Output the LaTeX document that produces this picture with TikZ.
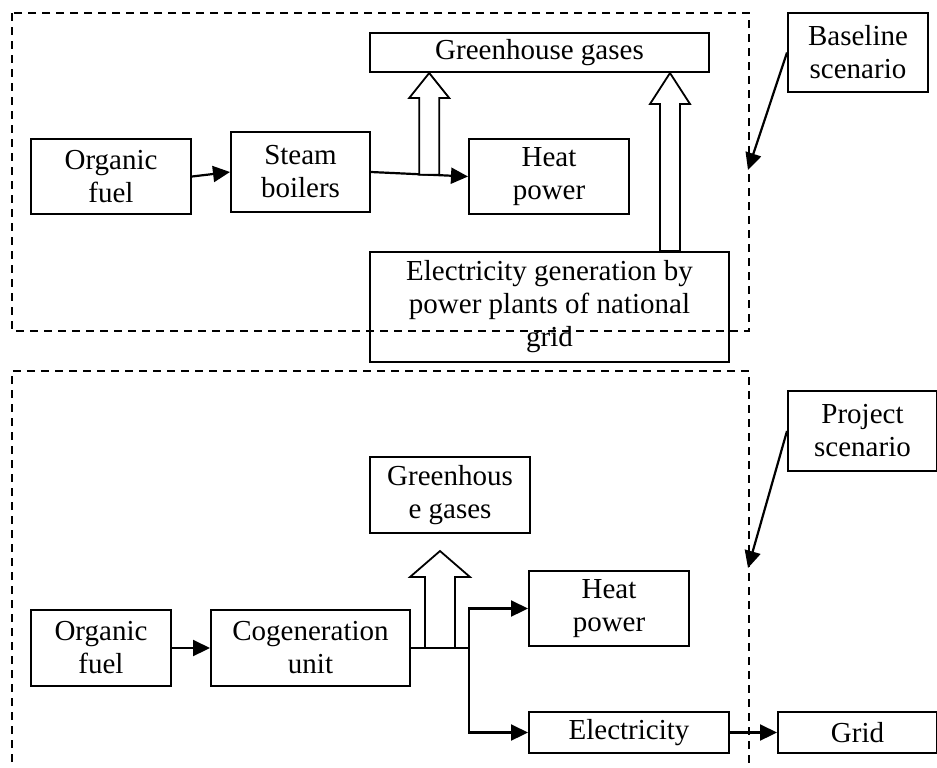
\documentclass[tikz,border=0pt]{standalone}
\usepackage{fontspec}
\setmainfont{Liberation Serif}
\usetikzlibrary{arrows.meta,calc,positioning}

\tikzset{
  blk/.style={draw, line width=1pt, align=center, inner sep=1pt,
    font=\fontsize{14.5}{16.5}\selectfont},
  arr/.style={line width=1.1pt, -{Triangle[length=8.5pt,width=8pt]}},
  frame/.style={line width=0.8pt, dash pattern=on 4pt off 3pt},
  fat/.style={draw, fill=white, line width=0.9pt},
}
% hollow arrow: base, tip, half shaft, half head, head length
\newcommand{\fatarrow}[5]{%
  \draw[fat] ($(#1)+(-#3,0)$) -- ($(#2)+(-#3,#5)$) -- ($(#2)+(-#4,#5)$) -- (#2)
    -- ($(#2)+(#4,#5)$) -- ($(#2)+(#3,#5)$) -- ($(#1)+(#3,0)$) -- cycle;
}

\begin{document}
\begin{tikzpicture}[x=0.5pt, y=-0.5pt]
  \useasboundingbox (0,0) rectangle (937,767);

  % baseline scenario
  \draw[frame] (12,13) rectangle (749,331);
  \node[blk, minimum width=80pt, minimum height=37.5pt] (fuelA) at (111,176.5) {Organic\\fuel};
  \node[blk, minimum width=69.5pt, minimum height=40pt] (boilA) at (300.5,172) {Steam\\boilers};
  \node[blk, minimum width=80pt, minimum height=37.5pt] (heatA) at (549,176.5) {Heat\\power};
  \node[blk, minimum width=169.5pt, minimum height=19.5pt] (ghgA) at (539.5,52.5) {Greenhouse gases};
  \node[blk, minimum width=179.5pt, minimum height=55pt] (elecA) at (549.5,307)
    {Electricity generation by\\power plants of national\\grid};
  \node[blk, minimum width=70pt, minimum height=39.5pt] (baseA) at (858,52.5) {Baseline\\scenario};
  \coordinate (baseTip) at (748,170);

  \draw[arr] (fuelA.east) -- (boilA.west);
  \draw[arr] (boilA.east) -- (heatA.west);
  \coordinate (gasA1) at ($(boilA.east)!0.6!(heatA.west)$);
  \coordinate (gasA2) at ($(elecA.north east)+(-60,0)$);
  \fatarrow{gasA1}{gasA1 |- ghgA.south}{10}{20}{25}
  \fatarrow{gasA2}{gasA2 |- ghgA.south}{10}{20}{31}
  \draw[arr] (baseA.west) -- (baseTip);

  % project scenario
  \draw[frame] (12,790) -- (12,371) -- (749,371) -- (749,790);
  \node[blk, minimum width=70pt, minimum height=38pt] (fuelB) at (101,648) {Organic\\fuel};
  \node[blk, minimum width=99.5pt, minimum height=38pt] (cogB) at (310.5,648) {Cogeneration\\unit};
  \node[blk, minimum width=80pt, minimum height=38pt] (ghgB) at (450,495) {Greenhous\\e gases};
  \node[blk, minimum width=80pt, minimum height=37.5pt] (heatB) at (609,608.5) {Heat\\power};
  \node[blk, minimum width=100pt, minimum height=20.5pt] (elecB) at (629,732.5) {Electricity};
  \node[blk, minimum width=79.5pt, minimum height=20.5pt] (gridB) at (857.5,732.5) {Grid};
  \node[blk, minimum width=74.5pt, minimum height=40pt] (projB) at (862.5,431) {Project\\scenario};
  \coordinate (projTip) at (748,568);
  \coordinate (split) at (469,648);

  \draw[arr] (fuelB.east) -- (cogB.west);
  \draw[line width=1.1pt] (cogB.east) -- (split);
  \draw[arr] (split) |- (heatB.west);
  \draw[arr] (split) |- (elecB.west);
  \draw[arr] (elecB.east) -- (gridB.west);
  \coordinate (gasB) at ($(cogB.east)!0.5!(split)$);
  \fatarrow{gasB}{$(gasB)+(0,-97)$}{15}{30}{26}
  \draw[arr] (projB.west) -- (projTip);
\end{tikzpicture}
\end{document}
